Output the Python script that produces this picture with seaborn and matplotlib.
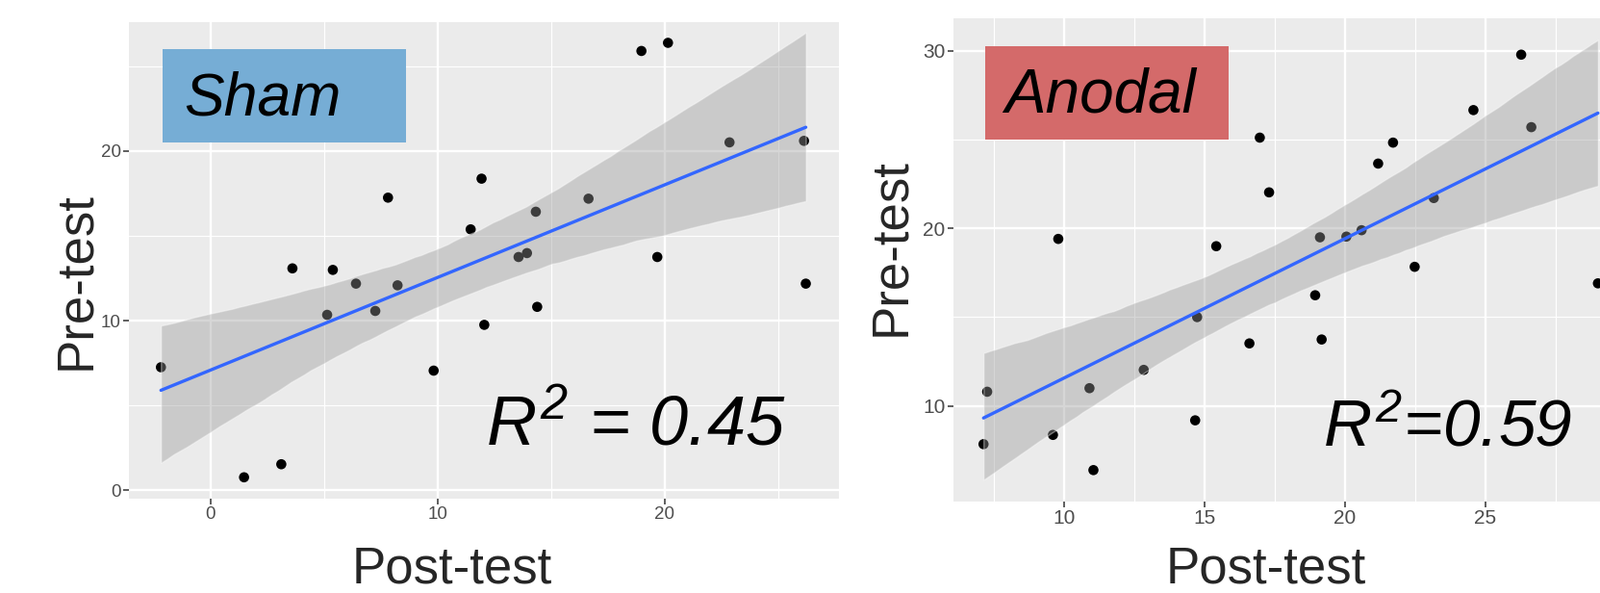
import numpy as np
import pandas as pd
import matplotlib
matplotlib.use("Agg")
import matplotlib.pyplot as plt
import seaborn as sns
from matplotlib.patches import Rectangle

# ---------------- data ----------------
sham_post = [-2.19, 1.47, 3.11, 3.60, 5.13, 5.38, 6.40, 7.25, 7.81, 8.23,
             9.82, 11.45, 11.93, 12.05, 13.56, 13.93, 14.32, 14.38, 16.64,
             18.97, 19.67, 20.14, 22.85, 26.13, 26.21]
sham_pre = [7.25, 0.76, 1.53, 13.08, 10.34, 12.99, 12.18, 10.57, 17.25, 12.08,
            7.05, 15.38, 18.37, 9.75, 13.75, 13.98, 16.42, 10.81, 17.19,
            25.90, 13.75, 26.38, 20.51, 20.60, 12.18]

anodal_post = [7.14, 7.27, 9.61, 9.80, 10.91, 11.05, 12.84, 14.67, 14.74, 15.42,
               16.60, 16.97, 17.30, 18.94, 19.11, 19.17, 20.05, 20.59, 21.18,
               21.71, 22.48, 23.16, 24.57, 26.27, 26.63, 29.00]
anodal_pre = [7.85, 10.80, 8.37, 19.40, 11.00, 6.39, 12.03, 9.19, 15.00, 18.99,
              13.52, 25.10, 22.02, 16.23, 19.49, 13.74, 19.53, 19.89, 23.64,
              24.82, 17.83, 21.70, 26.65, 29.77, 25.69, 16.90]

group_labels = ["Sham", "Anodal"]
r2_labels = ["$R^2$ = 0.45", "$R^2$=0.59"]
x_label = "Post-test"
y_label = "Pre-test"

# ---------------- style ----------------
sns.set_theme(style="darkgrid", rc={
    "axes.facecolor": "#EBEBEB",
    "grid.color": "white",
    "axes.edgecolor": "#EBEBEB",
})
plt.rcParams["font.family"] = ["Liberation Sans", "DejaVu Sans"]
plt.rcParams["mathtext.fontset"] = "custom"
plt.rcParams["mathtext.rm"] = "Liberation Sans:italic"
plt.rcParams["mathtext.it"] = "Liberation Sans:italic"
plt.rcParams["mathtext.bf"] = "Liberation Sans:italic:bold"

W, H = 1663, 616
fig = plt.figure(figsize=(W / 100, H / 100), dpi=100)
fig.patch.set_facecolor("white")


def fx(px):
    return px / W


def fy(py):
    return 1 - py / H


ax1 = fig.add_axes([fx(134), fy(518), (872 - 134) / W, (518 - 23) / H])
ax2 = fig.add_axes([fx(990.7), fy(521), 787 / W, (521 - 19.3) / H])


def panel(ax, x, y, xlim, ylim, xmaj, xmin, ymaj, ymin, tick_fs):
    df = pd.DataFrame({"post": x, "pre": y})
    sns.scatterplot(data=df, x="post", y="pre", ax=ax, color="black", s=58,
                    edgecolor="none", linewidth=0, zorder=2, legend=False)
    sns.regplot(data=df, x="post", y="pre", ax=ax, scatter=False,
                color="#999999", ci=95, n_boot=2000, seed=3,
                line_kws=dict(lw=2.4, zorder=4))
    ax.lines[-1].set_color("#3366FF")
    band = ax.collections[-1]
    band.set_facecolor("#999999")
    band.set_alpha(0.4)
    band.set_zorder(3)
    ax.set_xticks(xmaj)
    ax.set_xticks(xmin, minor=True)
    ax.set_yticks(ymaj)
    ax.set_yticks(ymin, minor=True)
    ax.set_xticklabels([str(v) for v in xmaj])
    ax.set_yticklabels([str(v) for v in ymaj])
    ax.set_xlim(*xlim)
    ax.set_ylim(*ylim)
    ax.set_axisbelow(True)
    ax.grid(which="major", color="white", lw=1.7)
    ax.grid(which="minor", color="white", lw=0.85)
    ax.tick_params(axis="both", which="major", length=4, width=1.1,
                   color="#333333", labelcolor="#4D4D4D",
                   labelsize=tick_fs, pad=2, bottom=True, left=True)
    ax.tick_params(axis="both", which="minor", length=0)
    ax.set_xlabel("")
    ax.set_ylabel("")
    for s in ax.spines.values():
        s.set_visible(False)


panel(ax1, sham_post, sham_pre, (-3.6, 27.67), (-0.5, 27.6),
      [0, 10, 20], [5, 15, 25], [0, 10, 20], [5, 15, 25], 13.5)
panel(ax2, anodal_post, anodal_pre, (6.06, 33.0), (4.62, 31.8),
      [10, 15, 20, 25], [7.5, 12.5, 17.5, 22.5, 27.5],
      [10, 20, 30], [15, 25], 15)

# ---------------- group boxes ----------------
fig.add_artist(Rectangle((fx(169), fy(147.7)), (422 - 169) / W, (147.7 - 51) / H,
                         transform=fig.transFigure, facecolor="#76ADD5",
                         edgecolor="none", zorder=5))
fig.add_artist(Rectangle((fx(1024), fy(145)), (1276.7 - 1024) / W, (145 - 48.3) / H,
                         transform=fig.transFigure, facecolor="#D46A6A",
                         edgecolor="none", zorder=5))
fig.text(fx(191), fy(120), group_labels[0], fontsize=45, style="italic",
         ha="left", va="baseline", color="black", zorder=6)
fig.text(fx(1044), fy(116.7), group_labels[1], fontsize=46, style="italic",
         ha="left", va="baseline", color="black", zorder=6)

# ---------------- R^2 labels ----------------
fig.text(fx(505), fy(462), r2_labels[0], fontsize=52, style="italic",
         ha="left", va="baseline", color="black", zorder=6)
fig.text(fx(1375), fy(463), r2_labels[1], fontsize=50, style="italic",
         ha="left", va="baseline", color="black", zorder=6)

# ---------------- axis labels ----------------
fig.text(fx(470), fy(605), x_label, fontsize=38, ha="center", va="baseline")
fig.text(fx(1316), fy(605), x_label, fontsize=38, ha="center", va="baseline")
fig.text(fx(93), fy(292), y_label, fontsize=38, rotation=90,
         rotation_mode="anchor", ha="center", va="baseline")
fig.text(fx(940), fy(256.5), y_label, fontsize=38, rotation=90,
         rotation_mode="anchor", ha="center", va="baseline")

fig.savefig("out.png", dpi=100, facecolor="white")
